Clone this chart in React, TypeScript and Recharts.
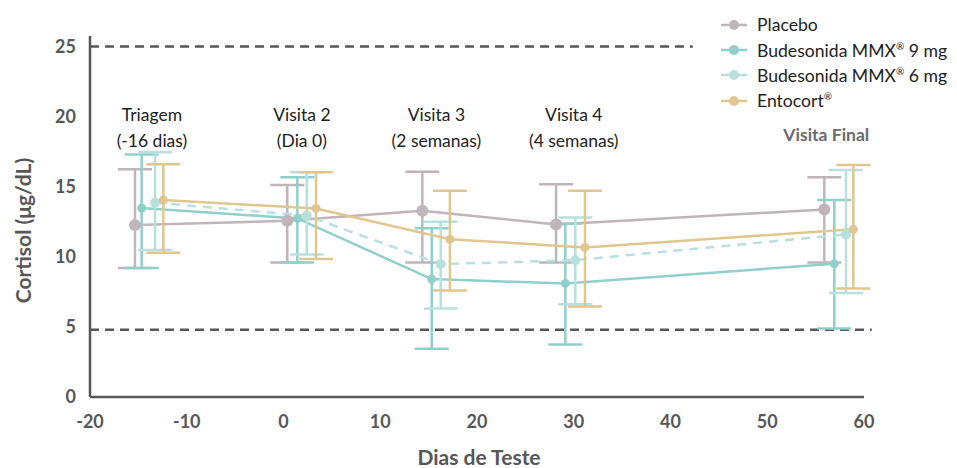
import {
  ComposedChart,
  Line,
  XAxis,
  YAxis,
  ErrorBar,
  ReferenceLine,
  ReferenceDot,
  Label,
} from "recharts";

// study days (slightly staggered per treatment) and cortisol mean / error range, µg/dL
const placeboDays = [-15.35, 0.39, 14.35, 28.17, 55.9];
const placeboMean = [12.26, 12.57, 13.29, 12.31, 13.38];
const placeboHigh = [16.24, 15.12, 16.07, 15.17, 15.67];
const placeboLow = [9.21, 9.6, 9.6, 9.6, 9.6];

const mmx9Days = [-14.66, 1.43, 15.32, 29.13, 56.93];
const mmx9Mean = [13.48, 12.74, 8.41, 8.1, 9.5];
const mmx9High = [17.29, 15.67, 12.03, 12.38, 14.05];
const mmx9Low = [9.21, 9.6, 3.45, 3.74, 4.89];

const mmx6Days = [-13.28, 2.4, 16.25, 30.16, 58.14];
const mmx6Mean = [13.86, 12.93, 9.48, 9.76, 11.6];
const mmx6High = [17.46, 16.03, 12.5, 12.81, 16.19];
const mmx6Low = [10.48, 10.17, 6.31, 6.62, 7.41];

const entocortDays = [-12.42, 3.36, 17.2, 31.16, 58.9];
const entocortMean = [14.05, 13.45, 11.26, 10.67, 11.96];
const entocortHigh = [16.6, 16.03, 14.71, 14.71, 16.55];
const entocortLow = [10.29, 9.84, 7.6, 6.46, 7.74];

const xTicks = [-20, -10, 0, 10, 20, 30, 40, 50, 60];
const yTicks = [0, 5, 10, 15, 20, 25];

// normal-range limits
const upperLimit = 25;
const lowerLimit = 4.8;

const visitLabels = [
  { x: -13.6, lines: ["Triagem", "(-16 dias)"] },
  { x: 1.9, lines: ["Visita 2", "(Dia 0)"] },
  { x: 15.8, lines: ["Visita 3", "(2 semanas)"] },
  { x: 30.0, lines: ["Visita 4", "(4 semanas)"] },
];

const FONT = "Lato, 'Open Sans', sans-serif";
const AXIS = "#575757";

type Row = { x: number; y: number; err: [number, number] };

const toRows = (days: number[], mean: number[], low: number[], high: number[]): Row[] =>
  days.map((d, i) => ({ x: d, y: mean[i], err: [mean[i] - low[i], high[i] - mean[i]] }));

const series = [
  { key: "placebo", name: "Placebo", sup: "", color: "#bfb5ba", r: 6, dash: undefined as string | undefined, rows: toRows(placeboDays, placeboMean, placeboLow, placeboHigh) },
  { key: "mmx9", name: "Budesonida MMX", sup: "® 9 mg", color: "#8fd0cb", r: 4.5, dash: undefined, rows: toRows(mmx9Days, mmx9Mean, mmx9Low, mmx9High) },
  { key: "mmx6", name: "Budesonida MMX", sup: "® 6 mg", color: "#b8e0df", r: 5, dash: "9 7", rows: toRows(mmx6Days, mmx6Mean, mmx6Low, mmx6High) },
  { key: "entocort", name: "Entocort", sup: "®", color: "#dfc78f", r: 4.5, dash: undefined, rows: toRows(entocortDays, entocortMean, entocortLow, entocortHigh) },
];

function ChartLegend() {
  return (
    <div style={{ position: "absolute", left: 720, top: 12, fontFamily: FONT, fontSize: 17.6, color: "#222" }}>
      {series.map((s) => (
        <div key={s.key} style={{ display: "flex", alignItems: "center", height: 25.4 }}>
          <svg width={28} height={14} style={{ marginRight: 9 }}>
            <line x1={1} y1={7} x2={27} y2={7} stroke={s.color} strokeWidth={2.5} />
            <circle cx={14} cy={7} r={5} fill={s.color} />
          </svg>
          <span>
            {s.name}
            {s.sup.startsWith("®") && <sup style={{ fontSize: 10 }}>®</sup>}
            {s.sup.slice(1)}
          </span>
        </div>
      ))}
    </div>
  );
}

export default function App() {
  return (
    <div style={{ position: "absolute", left: 0, top: 0, width: 957, height: 468, background: "#fff" }}>
      <ComposedChart width={957} height={468} margin={{ top: 36, right: 93, bottom: 0, left: 0 }}>
        <XAxis
          type="number"
          dataKey="x"
          domain={[-20, 60]}
          ticks={xTicks}
          allowDataOverflow
          height={71}
          tickLine={false}
          tickSize={0}
          tickMargin={18}
          axisLine={{ stroke: AXIS, strokeWidth: 2.5 }}
          tick={{ fill: AXIS, fontSize: 18, fontWeight: 700, fontFamily: FONT }}
        >
          <Label
            content={({ viewBox }: any) => (
              <text
                x={viewBox.x + viewBox.width / 2 + 2}
                y={viewBox.y + 68}
                textAnchor="middle"
                fill={AXIS}
                fontSize={21}
                fontWeight={700}
                fontFamily={FONT}
              >
                Dias de Teste
              </text>
            )}
          />
        </XAxis>
        <YAxis
          type="number"
          domain={[0, 25.75]}
          ticks={yTicks}
          allowDataOverflow
          width={90}
          tickLine={false}
          tickSize={0}
          tickMargin={14}
          axisLine={{ stroke: AXIS, strokeWidth: 2.5 }}
          tick={{ fill: AXIS, fontSize: 18, fontWeight: 700, fontFamily: FONT }}
        >
          <Label
            content={({ viewBox }: any) => {
              const cx = viewBox.x + 22;
              const cy = viewBox.y + viewBox.height / 2 + 14;
              return (
                <text
                  x={cx}
                  y={cy}
                  transform={`rotate(-90 ${cx} ${cy})`}
                  textAnchor="middle"
                  dominantBaseline="central"
                  fill={AXIS}
                  fontSize={21}
                  fontWeight={700}
                  fontFamily={FONT}
                >
                  Cortisol (μg/dL)
                </text>
              );
            }}
          />
        </YAxis>

        <ReferenceLine
          segment={[{ x: -20, y: upperLimit }, { x: 42.3, y: upperLimit }]}
          stroke={AXIS}
          strokeWidth={2.5}
          strokeDasharray="9 6"
        />
        <ReferenceLine
          segment={[{ x: -20, y: lowerLimit }, { x: 60.8, y: lowerLimit }]}
          ifOverflow="visible"
          stroke={AXIS}
          strokeWidth={2.5}
          strokeDasharray="9 6"
        />

        {visitLabels.map((v) => (
          <ReferenceDot
            key={v.lines[0]}
            x={v.x}
            y={20.1}
            r={0}
            shape={(p: any) => (
              <text x={p.cx} y={p.cy} textAnchor="middle" fill="#222" fontSize={17.5} fontFamily={FONT}>
                <tspan x={p.cx} dy="0.35em">{v.lines[0]}</tspan>
                <tspan x={p.cx} dy={25.7}>{v.lines[1]}</tspan>
              </text>
            )}
          />
        ))}
        <ReferenceDot
          x={56.1}
          y={18.7}
          r={0}
          shape={(p: any) => (
            <text x={p.cx} y={p.cy} dy="0.35em" textAnchor="middle" fill="#6b6b6b" fontSize={17.5} fontWeight={700} fontFamily={FONT}>
              Visita Final
            </text>
          )}
        />

        {series.map((s) => (
          <Line
            key={s.key}
            data={s.rows}
            dataKey="y"
            type="linear"
            stroke={s.color}
            strokeWidth={2.5}
            strokeDasharray={s.dash}
            dot={{ r: s.r, fill: s.color, stroke: s.color, strokeWidth: 0 }}
            activeDot={false}
            isAnimationActive={false}
          >
            <ErrorBar dataKey="err" direction="y" width={17} stroke={s.color} strokeWidth={2.5} />
          </Line>
        ))}
      </ComposedChart>
      <ChartLegend />
    </div>
  );
}
